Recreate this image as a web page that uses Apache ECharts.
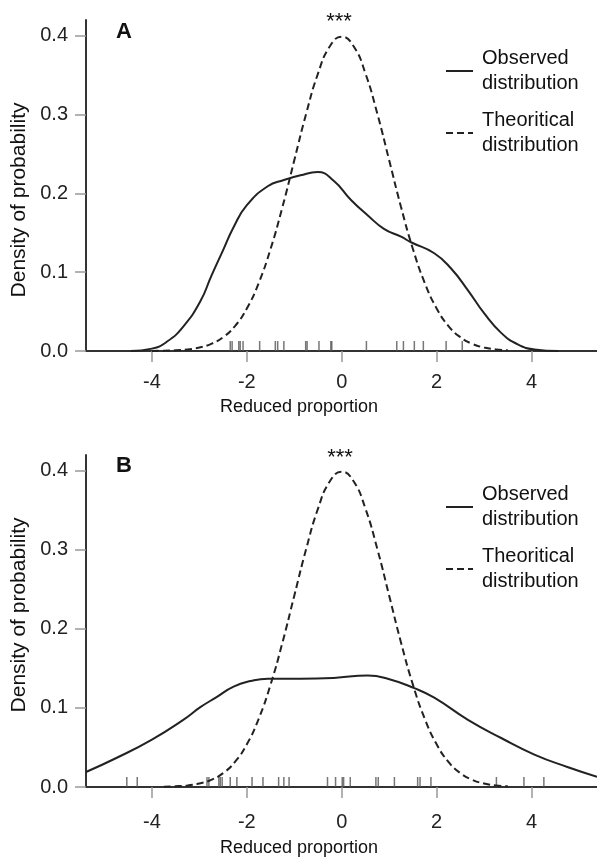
<!DOCTYPE html>
<html>
<head>
<meta charset="utf-8">
<script src="https://cdn.jsdelivr.net/npm/echarts@6/dist/echarts.min.js"></script>
<style>
    html, body { margin: 0; padding: 0; background: #fff; }
    #charts { width: 597px; height: 860px; }
</style>
</head>
<body>
<div id="charts"></div>
<script>
// values
const xTicks = [-4, -2, 0, 2, 4]
const yTicks = [0, 0.1, 0.2, 0.3, 0.4]

const observedA = [
    [-4.45, 0.0], [-4.0, 0.003], [-3.68, 0.012], [-3.34, 0.031], [-2.98, 0.063],
    [-2.75, 0.095], [-2.5, 0.128], [-2.28, 0.157], [-2.0, 0.185], [-1.56, 0.209],
    [-1.22, 0.217], [-0.87, 0.223], [-0.51, 0.227], [-0.17, 0.216], [0.19, 0.192],
    [0.55, 0.172], [0.89, 0.155], [1.25, 0.145], [1.46, 0.138], [1.95, 0.124],
    [2.3, 0.105], [2.66, 0.077], [3.0, 0.048], [3.36, 0.023], [3.72, 0.008],
    [4.06, 0.002], [4.57, 0.0]
]
const observedB = [
    [-5.39, 0.019], [-4.74, 0.037], [-4.0, 0.06], [-3.34, 0.085], [-2.98, 0.101],
    [-2.63, 0.114], [-2.28, 0.127], [-1.92, 0.134], [-1.56, 0.137], [-0.87, 0.137],
    [-0.17, 0.138], [0.55, 0.141], [0.97, 0.137], [1.53, 0.125], [1.95, 0.113],
    [2.66, 0.085], [3.36, 0.062], [4.06, 0.041], [4.77, 0.025], [5.38, 0.013]
]
const theoretical = [
    [-4.0, 0.0001], [-3.75, 0.0004], [-3.5, 0.0009], [-3.25, 0.002], [-3.0, 0.0044],
    [-2.75, 0.0091], [-2.5, 0.0175], [-2.25, 0.0317], [-2.0, 0.054], [-1.75, 0.0863],
    [-1.5, 0.1295], [-1.25, 0.1826], [-1.0, 0.242], [-0.75, 0.3011], [-0.5, 0.3521],
    [-0.25, 0.3867], [0.0, 0.3989], [0.25, 0.3867], [0.5, 0.3521], [0.75, 0.3011],
    [1.0, 0.242], [1.25, 0.1826], [1.5, 0.1295], [1.75, 0.0863], [2.0, 0.054],
    [2.25, 0.0317], [2.5, 0.0175], [2.75, 0.0091], [3.0, 0.0044], [3.25, 0.002],
    [3.5, 0.0009]
]
const rugA = [-2.35, -2.31, -2.17, -2.14, -2.08, -1.73, -1.40, -1.35, -1.22, -0.76, -0.73,
    -0.48, -0.23, -0.21, 0.52, 1.16, 1.30, 1.53, 1.72, 2.20, 2.54]
const rugB = [-4.53, -4.31, -2.84, -2.80, -2.59, -2.56, -2.52, -2.35, -2.21, -1.89, -1.66,
    -1.33, -1.22, -1.11, -0.30, -0.13, 0.01, 0.04, 0.18, 0.72, 0.77, 1.11, 1.60, 1.65,
    1.88, 3.26, 3.84, 4.26]

const FONT = '"Liberation Sans", Arial, sans-serif'
const OBS = 'Observed distribution'
const THEO = 'Theoritical distribution'

const xAxisOf = (gridIndex, margin, gap) => ({
    gridIndex: gridIndex,
    type: 'value',
    min: -5.39,
    max: 5.38,
    name: 'Reduced proportion',
    nameLocation: 'middle',
    nameGap: gap,
    nameTextStyle: { fontFamily: FONT, fontSize: 18, color: '#111', padding: [0, 85, 0, 0] },
    axisLine: { show: true, onZero: false, lineStyle: { color: '#333', width: 2 } },
    axisTick: { show: true, length: 11, customValues: xTicks, lineStyle: { color: '#999', width: 1.5 } },
    axisLabel: { margin: margin, customValues: xTicks, fontFamily: FONT, fontSize: 20, color: '#222' },
    splitLine: { show: false }
})
const yAxisOf = (gridIndex) => ({
    gridIndex: gridIndex,
    type: 'value',
    min: 0,
    max: 0.42,
    axisLine: { show: true, onZero: false, lineStyle: { color: '#333', width: 2 } },
    axisTick: { show: true, length: 11, customValues: yTicks, lineStyle: { color: '#999', width: 1.5 } },
    axisLabel: {
        margin: 18, customValues: yTicks, fontFamily: FONT, fontSize: 20, color: '#222',
        formatter: v => v.toFixed(1)
    },
    splitLine: { show: false }
})
const legendOf = (top) => ({
    orient: 'vertical',
    left: 440,
    top: top,
    itemWidth: 27,
    itemHeight: 10,
    itemGap: 12,
    data: [OBS, THEO],
    itemStyle: { opacity: 0 },
    formatter: name => name.replace(' ', '\n'),
    textStyle: { fontFamily: FONT, fontSize: 20, lineHeight: 25, color: '#111', padding: [0, 0, 0, 4] }
})
const lineSeries = (name, idx, data, dashed) => ({
    name: name,
    type: 'line',
    xAxisIndex: idx,
    yAxisIndex: idx,
    data: data,
    smooth: 0.5,
    symbol: 'none',
    lineStyle: { color: '#222', width: 2, type: dashed ? [7, 4] : 'solid' },
    itemStyle: { color: '#222' }
})
const rugSeries = (idx, values) => ({
    type: 'scatter',
    xAxisIndex: idx,
    yAxisIndex: idx,
    data: values.map(v => [v, 0]),
    symbol: 'rect',
    symbolSize: [1.5, 10],
    symbolOffset: [0, -5],
    itemStyle: { color: '#555' },
    silent: true,
    z: 1
})
const label = (text, x, y, size, weight, rotation) => ({
    type: 'text',
    x: x,
    y: y,
    rotation: rotation || 0,
    style: {
        text: text, fontFamily: FONT, fontSize: size, fontWeight: weight || 'normal',
        fill: '#111', align: 'center', verticalAlign: 'middle'
    }
})

let chart = echarts.init(document.getElementById('charts'))
chart.setOption({
    animation: false,
    backgroundColor: '#fff',
    grid: [
        { left: 86, top: 20, width: 511, height: 331 },
        { left: 86, top: 455, width: 511, height: 332 }
    ],
    xAxis: [xAxisOf(0, 21, 47), xAxisOf(1, 25, 52)],
    yAxis: [yAxisOf(0), yAxisOf(1)],
    legend: [legendOf(41), legendOf(477)],
    graphic: [
        label('Density of probability', 19, 200, 21, 'normal', Math.PI / 2),
        label('Density of probability', 19, 615, 21, 'normal', Math.PI / 2),
        label('A', 124, 32, 22, 'bold'),
        label('B', 124, 466, 22, 'bold'),
        label('***', 339, 22, 22),
        label('***', 340, 458, 22)
    ],
    series: [
        lineSeries(OBS, 0, observedA, false),
        lineSeries(THEO, 0, theoretical, true),
        rugSeries(0, rugA),
        lineSeries(OBS, 1, observedB, false),
        lineSeries(THEO, 1, theoretical.slice(1), true),
        rugSeries(1, rugB)
    ]
});
</script>
</body>
</html>
